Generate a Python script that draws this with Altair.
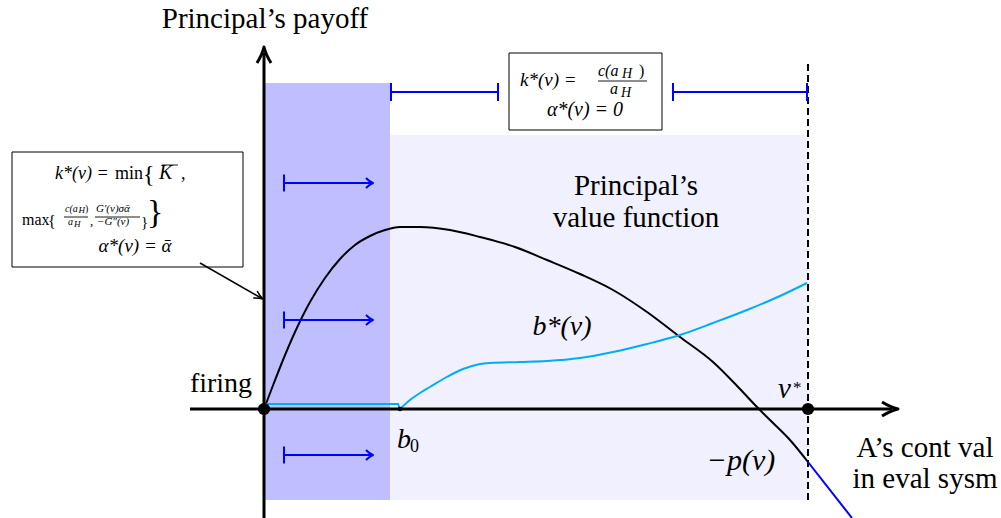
import altair as alt
import pandas as pd

# ---- diagram data (one unit = 100 px on screen, origin at the axes' crossing) ----
# principal's value function
vf_x = [0, 0.08, 0.19, 0.31, 0.46, 0.61, 0.76, 0.91, 1.06, 1.21, 1.36, 1.56, 1.86,
        2.16, 2.51, 2.83, 3.16, 3.49, 3.83, 4.16, 4.49, 4.76, 4.93, 5.06, 5.26, 5.44]
vf_y = [0, 0.21, 0.49, 0.77, 1.07, 1.31, 1.50, 1.64, 1.73, 1.79, 1.82, 1.82, 1.79,
        1.72, 1.62, 1.49, 1.35, 1.19, 0.97, 0.72, 0.47, 0.20, 0.02, -0.11, -0.31, -0.53]
# -p(v) beyond v*
pv_x = [5.44, 5.88]
pv_y = [-0.53, -1.09]
# b*(v): flat piece, then the rising branch from b0
bflat_x = [0, 1.34, 1.36]
bflat_y = [0.05, 0.05, 0]
b_x = [1.36, 1.46, 1.56, 1.66, 1.81, 1.99, 2.16, 2.26, 2.56, 2.83, 3.16, 3.49, 3.83,
       4.16, 4.49, 4.83, 5.16, 5.43]
b_y = [0, 0.09, 0.16, 0.22, 0.31, 0.40, 0.45, 0.46, 0.47, 0.48, 0.51, 0.57, 0.65,
       0.74, 0.86, 0.99, 1.13, 1.26]

region_edge = 1.26   # end of the shaded (alpha = alpha-bar) region
b0 = 1.36
v_star = 5.44

XDOM = [-2.64, 7.37]
YDOM = [-1.09, 4.09]
xs = alt.Scale(domain=XDOM, nice=False, zero=False)
ys = alt.Scale(domain=YDOM, nice=False, zero=False)

SERIF = "'Liberation Serif', 'Times New Roman', 'DejaVu Serif', serif"
BLUE = "#0000ff"
CYAN = "#00aeef"

ARROW_AXIS = "M-1,-0.44 Q-0.45,-0.1 0,0 Q-0.45,0.1 -1,0.44"
ARROW_SMALL = "M-1,-0.72 Q-0.45,-0.15 0,0 Q-0.45,0.15 -1,0.72"


def X(f="x"):
    return alt.X(f"{f}:Q", scale=xs, axis=None)


def Y(f="y"):
    return alt.Y(f"{f}:Q", scale=ys, axis=None)


def rects(df, color, stroke=None):
    kw = dict(fill=color)
    if stroke:
        kw.update(stroke=stroke, strokeWidth=1)
    return alt.Chart(df).mark_rect(**kw).encode(
        x=X("x"), x2="x2", y=Y("y"), y2="y2")


def rules(df, color, width, dash=None):
    kw = dict(color=color, strokeWidth=width)
    if dash:
        kw["strokeDash"] = dash
    return alt.Chart(df).mark_rule(**kw).encode(
        x=X("x"), x2="x2", y=Y("y"), y2="y2")


def heads(df, shape, size, color, width):
    return alt.Chart(df).mark_point(
        shape=shape, size=size, filled=False, stroke=color, strokeWidth=width,
        strokeJoin="round", opacity=1
    ).encode(x=X(), y=Y(), angle=alt.Angle("angle:Q", scale=None))


# shaded regions
dark = rects(pd.DataFrame({"x": [0], "x2": [region_edge], "y": [-0.91], "y2": [3.26]}), "#bfbfff")
light = rects(pd.DataFrame({"x": [region_edge], "x2": [v_star], "y": [-0.91], "y2": [2.74]}), "#f0f0ff")

dashed = rules(pd.DataFrame({"x": [v_star], "x2": [v_star], "y": [-0.91], "y2": [3.47]}),
               "black", 2, [7, 4])

# curves
vf = alt.Chart(pd.DataFrame({"x": vf_x, "y": vf_y})).mark_line(
    color="black", strokeWidth=2, interpolate="monotone").encode(x=X(), y=Y(), order="x:Q")
pv = alt.Chart(pd.DataFrame({"x": pv_x, "y": pv_y})).mark_line(
    color=BLUE, strokeWidth=2).encode(x=X(), y=Y())
bflat = alt.Chart(pd.DataFrame({"x": bflat_x, "y": bflat_y})).mark_line(
    color=CYAN, strokeWidth=2).encode(x=X(), y=Y(), order="x:Q")
bcurve = alt.Chart(pd.DataFrame({"x": b_x, "y": b_y})).mark_line(
    color=CYAN, strokeWidth=2, interpolate="monotone").encode(x=X(), y=Y(), order="x:Q")

# top interval markers |----|  |----|
top_y = 3.17
seg_top = rules(pd.DataFrame({"x": [region_edge, 4.09], "x2": [2.34, v_star - 0.01],
                              "y": [top_y, top_y], "y2": [top_y, top_y]}), BLUE, 2)
bars_top_x = [region_edge + 0.01, 2.34, 4.09, v_star - 0.01]
bars_top = rules(pd.DataFrame({"x": bars_top_x, "x2": bars_top_x,
                               "y": [top_y - 0.09] * 4, "y2": [top_y + 0.09] * 4}), BLUE, 2)

# |-> arrows inside the shaded region
arr_y = [2.26, 0.89, -0.46]
arr_x0, arr_x1 = 0.20, 1.09
seg_arr = rules(pd.DataFrame({"x": [arr_x0] * 3, "x2": [arr_x1 - 0.01] * 3,
                              "y": arr_y, "y2": arr_y}), BLUE, 2)
bars_arr = rules(pd.DataFrame({"x": [arr_x0] * 3, "x2": [arr_x0] * 3,
                               "y": [v - 0.085 for v in arr_y],
                               "y2": [v + 0.085 for v in arr_y]}), BLUE, 2)
heads_arr = heads(pd.DataFrame({"x": [arr_x1] * 3, "y": arr_y, "angle": [0] * 3}),
                  ARROW_SMALL, 196, BLUE, 2)

# axes
axes = rules(pd.DataFrame({"x": [-0.74, 0], "x2": [6.28, 0],
                           "y": [0, -1.09], "y2": [0, 3.56]}), "black", 3)
axis_heads = heads(pd.DataFrame({"x": [6.34, 0], "y": [0, 3.62], "angle": [0, 270]}),
                   ARROW_AXIS, 1024, "black", 3)

# dots
big_dots = alt.Chart(pd.DataFrame({"x": [0, v_star], "y": [0, 0]})).mark_point(
    shape="circle", size=150, filled=True, color="black", opacity=1).encode(x=X(), y=Y())
b0_dot = alt.Chart(pd.DataFrame({"x": [b0], "y": [0]})).mark_point(
    shape="circle", size=22, filled=True, color="black", opacity=1).encode(x=X(), y=Y())

# formula boxes
boxes = rects(pd.DataFrame({"x": [2.45, -2.52], "x2": [3.98, -0.21],
                            "y": [3.56, 2.57], "y2": [2.79, 1.42]}), "white", "black")

# pointer from the left box to the vertical axis
pointer = rules(pd.DataFrame({"x": [-0.64], "x2": [-0.03], "y": [1.46], "y2": [1.11]}),
                "black", 1.5)
pointer_head = heads(pd.DataFrame({"x": [-0.01], "y": [1.10], "angle": [30]}),
                     ARROW_AXIS, 324, "black", 1.5)

# fraction bars and overlines
frac_bars = rules(pd.DataFrame({
    "x": [3.34, -2.00, -1.69, -1.02],
    "x2": [3.83, -1.76, -1.24, -0.86],
    "y": [3.28, 1.92, 1.92, 2.44],
    "y2": [3.28, 1.92, 1.92, 2.44]}), "black", 0.9)


def texts(rows, italic, align):
    df = pd.DataFrame(rows, columns=["x", "y", "t", "size"])
    return alt.Chart(df).mark_text(
        font=SERIF, fontStyle="italic" if italic else "normal", align=align,
        baseline="alphabetic", color="black"
    ).encode(x=X(), y=Y(), text="t:N", size=alt.Size("size:Q", scale=None))


labels_c = texts([
    (0.01, 3.81, "Principal’s payoff", 29),
    (3.72, 2.14, "Principal’s", 29),
    (3.72, 1.82, "value function", 29),
    (-0.43, 0.17, "firing", 28),
    (6.61, -0.48, "A’s cont val", 29),
    (6.61, -0.79, "in eval sysm", 29),
], False, "center")

math_c = texts([
    (2.98, 0.74, "b*(v)", 28),
    (4.77, -0.61, "−p(v)", 30),
    (3.21, 2.93, "α*(v) = 0", 20),
    (-1.29, 1.57, "α*(v) = α\u0304", 19),
], True, "center")

math_l = texts([
    (1.33, -0.39, "b", 28),
    (5.14, 0.11, "v", 29),
    # top box
    (2.56, 3.23, "k*(v) =", 19),
    (3.34, 3.33, "c(a", 16),
    (3.58, 3.31, "H", 14),
    (3.46, 3.15, "a", 16),
    (3.57, 3.12, "H", 14),
    # left box
    (-2.09, 2.30, "k*(v) =", 18),
    (-1.05, 2.30, "K", 20),
    (-1.99, 1.97, "c(a", 10),
    (-1.855, 1.96, "H", 9),
    (-1.96, 1.84, "a", 10),
    (-1.90, 1.82, "H", 9),
    (-1.68, 1.97, "G′(v)σα\u0304", 11),
    (-1.67, 1.84, "−G″(v)", 11),
], True, "left")

plain_l = texts([
    (1.46, -0.43, "0", 18),
    (5.29, 0.16, "*", 17),
    (3.75, 3.33, ")", 16),
    (-1.49, 2.30, "min", 18),
    (-1.21, 2.27, "{", 24),
    (-0.83, 2.30, ",", 18),
    (-2.42, 1.84, "max", 16),
    (-2.16, 1.82, "{", 16),
    (-1.79, 1.97, ")", 10),
    (-1.74, 1.84, ",", 13),
    (-1.23, 1.82, "}", 15),
    (-1.17, 1.86, "}", 34),
], False, "left")

chart = alt.layer(
    dark, light, dashed, vf, pv, bflat, bcurve,
    seg_top, bars_top, seg_arr, bars_arr, heads_arr,
    axes, axis_heads, big_dots, b0_dot,
    boxes, pointer, pointer_head, frac_bars,
    labels_c, math_c, math_l, plain_l,
).properties(
    width=1001, height=518, padding=0, autosize=alt.AutoSizeParams(type="none")
).configure_view(stroke=None)

chart.save("out.html", embed_options={"renderer": "svg", "actions": False})
